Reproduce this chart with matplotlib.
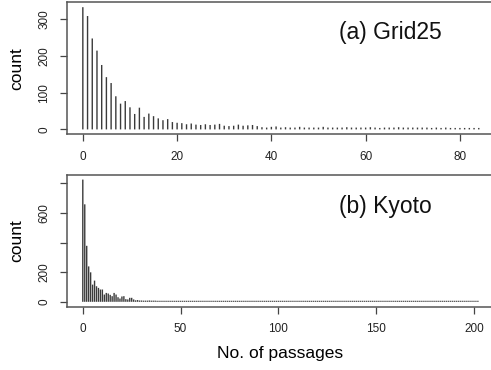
# passage count histograms (R type="h" look)

import matplotlib
matplotlib.use("Agg")
import matplotlib.pyplot as plt

plt.rcParams['font.family'] = ['Liberation Sans', 'DejaVu Sans']

# (a) Grid25: counts for 0..84 passages
grid25_counts = [332, 308, 247, 214, 175, 142, 126, 90, 70, 77,
                 60, 42, 59, 34, 43, 36, 30, 25, 28, 20,
                 18, 17, 14, 16, 13, 12, 14, 12, 13, 15,
                 10, 9, 10, 13, 10, 11, 12, 9, 6, 5,
                 7, 8, 5, 6, 5, 5, 7, 5, 5, 5,
                 5, 7, 5, 5, 5, 5, 6, 5, 5, 5,
                 5, 6, 5, 4, 5, 5, 5, 6, 5, 5,
                 5, 5, 5, 5, 4, 5, 4, 5, 4, 4,
                 4, 4, 4, 4, 4]
grid25_x = list(range(len(grid25_counts)))

# (b) Kyoto: counts for 0..202 passages
kyoto_counts = [825, 658, 378, 239, 199, 116, 143, 105, 94, 83,
                83, 49, 60, 56, 47, 38, 60, 49, 31, 22,
                36, 38, 18, 16, 27, 27, 16, 10, 12, 9,
                9, 8, 8, 8, 9, 8, 8, 8, 7, 7,
                7, 7, 7, 7, 7, 7, 7, 7, 7, 7,
                7, 7, 7, 7, 7, 7, 7, 7, 7, 7,
                7, 7, 7, 7, 7, 7, 7, 7, 7, 7,
                7, 7, 7, 7, 7, 7, 7, 7, 7, 7,
                7, 7, 7, 7, 7, 7, 7, 7, 7, 7,
                7, 7, 7, 7, 7, 7, 7, 7, 7, 7,
                7, 7, 7, 7, 7, 7, 7, 7, 7, 7,
                7, 7, 7, 7, 7, 7, 7, 7, 7, 7,
                7, 7, 7, 7, 7, 7, 7, 7, 7, 7,
                7, 7, 7, 7, 7, 7, 7, 7, 7, 7,
                7, 7, 7, 7, 7, 7, 7, 7, 7, 7,
                7, 7, 7, 7, 7, 7, 7, 7, 7, 7,
                7, 7, 7, 7, 7, 7, 7, 7, 7, 7,
                7, 7, 7, 7, 7, 7, 7, 7, 7, 7,
                7, 7, 7, 7, 7, 7, 7, 7, 7, 7,
                7, 7, 7, 7, 7, 7, 7, 7, 7, 7,
                7, 7, 7]
kyoto_x = list(range(len(kyoto_counts)))

grid25_xticks = [0, 20, 40, 60, 80]
grid25_yticks = [0, 100, 200, 300]
grid25_ylabels = ['0', '100', '200', '300']
kyoto_xticks = [0, 50, 100, 150, 200]
kyoto_yticks = [0, 200, 400, 600, 800]
kyoto_ylabels = ['0', '200', '', '600', '']

W, H = 491, 370
fig = plt.figure(figsize=(W / 100, H / 100), dpi=100)


def r_lim(vals):
    lo, hi = min(vals), max(vals)
    d = (hi - lo) * 0.04
    return lo - d, hi + d


def hist_panel(rect, x, y, xticks, yticks, ylabels, label, label_pos):
    left, top, right, bottom = rect
    ax = fig.add_axes([left / W, 1 - bottom / H, (right - left) / W, (bottom - top) / H])
    ax.vlines(x, 0, y, colors='#3a3a3a', linewidth=1.0, snap=False)
    ax.set_xlim(*r_lim(x))
    ax.set_ylim(*r_lim([0] + y))
    ax.set_xticks(xticks)
    ax.set_yticks(yticks)
    ax.set_yticklabels(ylabels, rotation=90, va='center')
    ax.tick_params(direction='out', length=5, width=0.9, color='#444',
                   labelsize=8.5, labelcolor='#222')
    ax.tick_params(axis='x', pad=7)
    ax.tick_params(axis='y', pad=7)
    for s in ax.spines.values():
        s.set_color('#555')
        s.set_linewidth(1.1)
    ax.set_ylabel('count', fontsize=12.5, labelpad=10)
    fig.text(label_pos[0] / W, 1 - label_pos[1] / H, label,
             fontsize=16.5, va='baseline', ha='left', color='#111')
    return ax


ax1 = hist_panel((67, 2.3, 494.6, 134.3), grid25_x, grid25_counts,
                 grid25_xticks, grid25_yticks, grid25_ylabels,
                 '(a) Grid25', (339, 38.5))
ax2 = hist_panel((67, 174.7, 493.7, 306.7), kyoto_x, kyoto_counts,
                 kyoto_xticks, kyoto_yticks, kyoto_ylabels,
                 '(b) Kyoto', (339, 212.7))
ax2.set_xlabel('No. of passages', fontsize=12.5, labelpad=8)

fig.savefig('out.png', dpi=100)
